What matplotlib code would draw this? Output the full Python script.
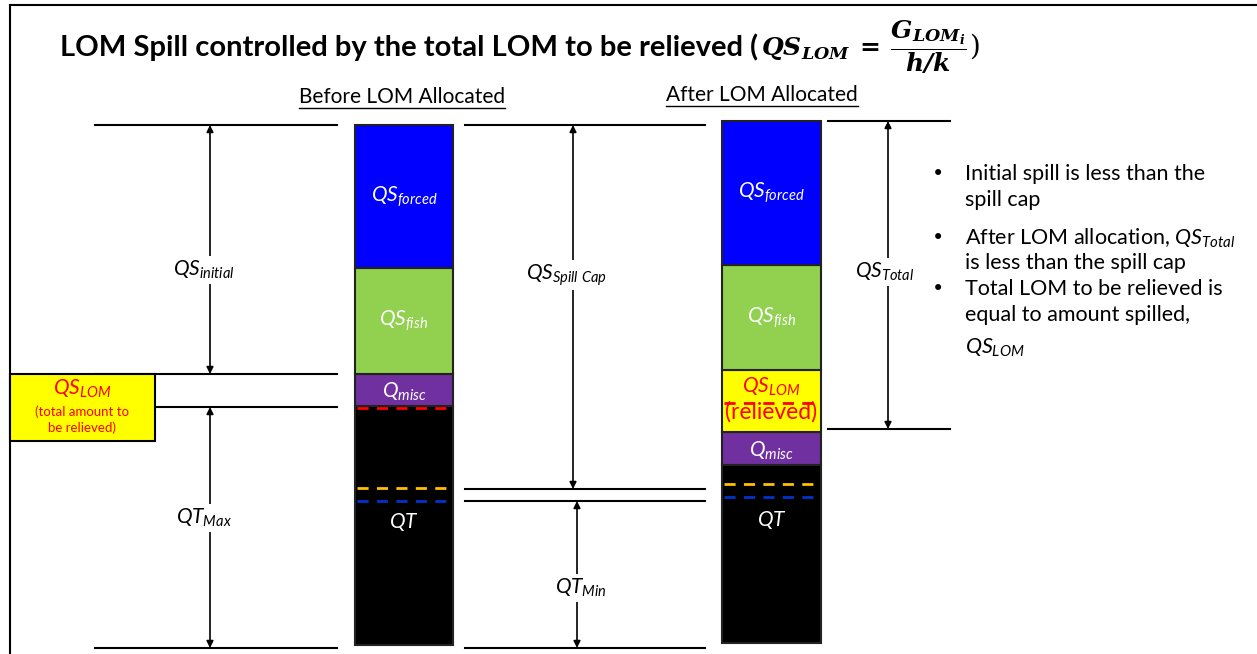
import matplotlib
matplotlib.use("Agg")
import matplotlib.pyplot as plt
import numpy as np

plt.rcParams['mathtext.fontset'] = 'custom'
plt.rcParams['mathtext.it'] = 'Lato:italic'
plt.rcParams['mathtext.rm'] = 'Lato'
plt.rcParams['mathtext.bf'] = 'DejaVu Serif:bold:italic'
plt.rcParams['font.family'] = ['Lato', 'DejaVu Sans']

# ---- data (segment sizes, bottom to top) ----
before_labels = [r"$QT$", r"$Q_{misc}$", r"$QS_{fish}$", r"$QS_{forced}$"]
before_heights = [239, 32, 106, 143]
before_colors = ["#000000", "#7030A0", "#92D050", "#0000FF"]

after_labels = [r"$QT$", r"$Q_{misc}$", r"$QS_{LOM}$", r"$QS_{fish}$", r"$QS_{forced}$"]
after_heights = [178, 33, 62, 105, 144]
after_colors = ["#000000", "#7030A0", "#FFFF00", "#92D050", "#0000FF"]
after_text_colors = ["white", "white", "red", "white", "white"]

bullet_lines = [
    ["Initial spill is less than the", "spill cap"],
    ["After LOM allocation, $QS_{Total}$", "is less than the spill cap"],
    ["Total LOM to be relieved is", "equal to amount spilled,", "$QS_{LOM}$"],
]
bullet_line_y = [[174, 200], [238, 263], [289, 315, 348]]

W, H = 1257, 654
fig = plt.figure(figsize=(W / 100, H / 100), dpi=100)
ax = fig.add_axes([0, 0, 1, 1])
ax.set_xlim(0, W)
ax.set_ylim(H, 0)
ax.axis("off")
renderer = fig.canvas.get_renderer()


def extent(t):
    return t.get_window_extent(renderer).transformed(ax.transData.inverted())


LW = 1.5

# frame
ax.plot([10, W], [5, 5], color="black", lw=LW)
ax.plot([10, 10], [5, H], color="black", lw=LW)

# title
t1 = ax.text(60, 47, "LOM Spill controlled by the total LOM to be relieved (",
             fontsize=21, fontweight="bold", va="center", ha="left")
bb = extent(t1)
t2 = ax.text(bb.x1 + 3, 47, r"$\mathbf{QS_{LOM}}\ \mathbf{=}\ \mathbf{\dfrac{G_{LOM_i}}{h/k}}$",
             fontsize=18, va="center", ha="left")
bb2 = extent(t2)
ax.text(bb2.x1 + 2, 47, ")", fontsize=20, va="center", ha="left", family="DejaVu Serif")

# subtitles with underline
for xc, yc, s in [(402, 97, "Before LOM Allocated"), (762, 95, "After LOM Allocated")]:
    t = ax.text(xc, yc, s, fontsize=15, ha="center", va="center")
    b = extent(t)
    ax.plot([b.x0, b.x1], [b.y0 + 1, b.y0 + 1], color="black", lw=1)


def stack(xc, width, bottom_px, heights, colors):
    bottoms = bottom_px - np.concatenate([[0], np.cumsum(heights)[:-1]])
    ax.bar([xc] * len(heights), [-h for h in heights], bottom=bottoms, width=width,
           color=colors, edgecolor="#222222", linewidth=1.5, zorder=2)
    return bottoms - np.array(heights) / 2.0


# before bar
mids_b = stack(404, 98, 645, before_heights, before_colors)
for m, lab in zip(mids_b, before_labels):
    if lab == r"$QT$":
        m = 522
    ax.text(404, m + (2 if "misc" in lab else 0), lab, color="white", fontsize=15,
            ha="center", va="center", zorder=4)

# after bar
mids_a = stack(771.5, 99, 643, after_heights, after_colors)
for m, lab, c in zip(mids_a, after_labels, after_text_colors):
    if lab == r"$QT$":
        m = 520
    if "LOM" in lab:
        ax.text(771.5, 387, lab, color=c, fontsize=15, ha="center", va="center", zorder=4)
        ax.text(771.5, 412, "(relieved)", color=c, fontsize=16.5, ha="center", va="center", zorder=4)
    else:
        ax.text(771.5, m + (2 if "misc" in lab else 0), lab, color=c, fontsize=15,
                ha="center", va="center", zorder=4)

# dashed reference lines inside bars
dash = dict(lw=2, linestyle=(0, (4, 3)), zorder=3)
ax.plot([357, 452], [408, 408], color="red", **dash)
ax.plot([357, 452], [488, 488], color="#FFC000", **dash)
ax.plot([357, 452], [501, 501], color="#0033CC", **dash)
ax.plot([724, 820], [403, 403], color="red", **dash)
ax.plot([724, 820], [484, 484], color="#FFC000", **dash)
ax.plot([724, 820], [497, 497], color="#0033CC", **dash)

# horizontal level lines
hl = [
    (95, 337, 125), (95, 337, 374), (155, 337, 407), (95, 337, 648),
    (465, 705, 125), (465, 705, 489), (465, 705, 501), (465, 705, 648),
    (828, 950, 121), (828, 950, 429),
]
for x0, x1, y in hl:
    ax.plot([x0, x1], [y, y], color="black", lw=LW)

# yellow QS_LOM box
ax.add_patch(plt.Rectangle((10, 374), 145, 67, facecolor="#FFFF00", edgecolor="black",
                           lw=1.5, zorder=2))
ax.text(82, 389, r"$QS_{LOM}$", color="red", fontsize=15, ha="center", va="center", zorder=4)
ax.text(82, 420, "(total amount to\nbe relieved)", color="red", fontsize=9.5,
        ha="center", va="center", linespacing=1.35, zorder=4)


def darrow(x, y0, y1, label, ly, lx=None):
    ax.annotate("", xy=(x, y0), xytext=(x, y1),
                arrowprops=dict(arrowstyle="<|-|>", color="black", lw=1.2,
                                mutation_scale=10, shrinkA=0, shrinkB=0))
    ax.text(x if lx is None else lx, ly, label, fontsize=15, ha="center", va="center",
            bbox=dict(facecolor="white", edgecolor="none", pad=2), zorder=5)


darrow(210, 125, 374, r"$QS_{initial}$", 270, 204)
darrow(210, 407, 648, r"$QT_{Max}$", 518, 204)
darrow(573, 125, 489, r"$QS_{Spill\ Cap}$", 275, 566)
darrow(577, 501, 648, r"$QT_{Min}$", 588, 581)
darrow(888, 121, 429, r"$QS_{Total}$", 272, 885)

# bullets
for lines, ys in zip(bullet_lines, bullet_line_y):
    ax.text(938, ys[0], "\u2022", fontsize=15, ha="center", va="center", family="DejaVu Sans")
    for s, y in zip(lines, ys):
        ax.text(965, y, s, fontsize=15.5, ha="left", va="center")

fig.savefig("out.png", dpi=100)
